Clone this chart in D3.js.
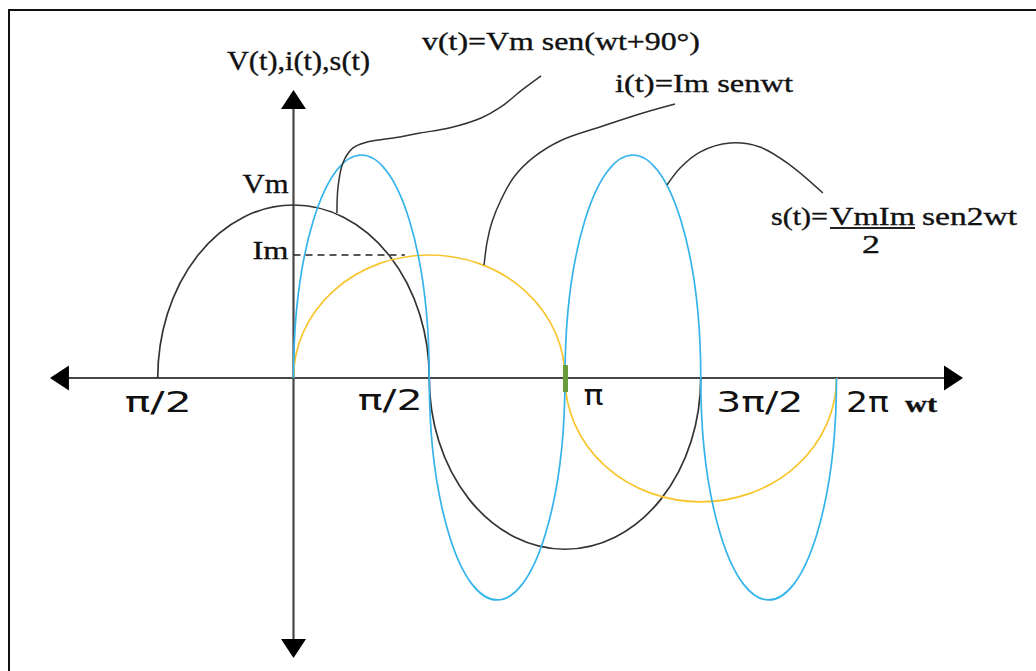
<!DOCTYPE html>
<html>
<head>
<meta charset="utf-8">
<script src="https://cdn.jsdelivr.net/npm/d3@7"></script>
<style>
  body { margin: 0; background: #fff; }
  svg { display: block; }
  .serif { font-family: "Liberation Serif", "DejaVu Serif", serif; fill: #111; stroke: #111; stroke-width: 0.35px; }
  .sans { font-family: "DejaVu Sans", "Noto Sans", sans-serif; fill: #111; }
</style>
</head>
<body>
<svg class="chart"></svg>
<script>
/******** Data (x in multiples of π, y in units of Vm) ********/
// each lobe: [start, end, peak]
var vLobes = [[-0.5, 0.5, 1.0], [0.5, 1.5, -0.99]];
var iLobes = [[0, 1, 0.711], [1, 2, -0.716]];
var sLobes = [[0, 0.5, 1.289], [0.5, 1, -1.283], [1, 1.5, 1.289], [1.5, 2, -1.283]];

var xTickValues = [-0.5, 0.5, 1, 1.5, 2];
var xTickLabels = ["π/2", "π/2", "π", "3π/2", "2π"];
var yLevelValues = [1.0, 0.711];
var yLevelLabels = ["Vm", "Im"];

var xAxisExtent = [-0.897, 2.466];
var yAxisExtent = [-1.618, 1.665];

// leader lines from the formulas to the curves
var vLeader = [[0.912, 1.746], [0.842, 1.665], [0.764, 1.567], [0.691, 1.503], [0.573, 1.445], [0.466, 1.416],
               [0.392, 1.393], [0.271, 1.364], [0.219, 1.330], [0.182, 1.243], [0.164, 1.104], [0.160, 0.954]];
var iLeader = [[1.405, 1.584], [1.287, 1.532], [1.140, 1.457], [0.989, 1.376], [0.886, 1.278], [0.812, 1.162],
               [0.764, 1.029], [0.731, 0.902], [0.713, 0.786], [0.702, 0.653]];
var sLeader = [[1.376, 1.116], [1.424, 1.214], [1.497, 1.306], [1.608, 1.358], [1.718, 1.335], [1.829, 1.231], [1.950, 1.069]];

/******** Layout ********/
var chartWidth = 1036, chartHeight = 671;
var blue = "#35b4ec", yellow = "#f9c52f", dark = "#333333", axisColor = "#474747";

// per-label placement of the wt ticks: anchor, dx, baseline offset, text length
var tickStyle = [
  { anchor: "middle", dx: 0, dy: 34, len: 67 },
  { anchor: "end", dx: -7, dy: 32, len: 65 },
  { anchor: "start", dx: 18, dy: 27, len: 20 },
  { anchor: "start", dx: 15, dy: 34, len: 87 },
  { anchor: "start", dx: 9, dy: 34, len: 43 }
];

/******** Scales ********/
var x = d3.scaleLinear().domain([0, 1]).range([293.5, 565]);
var y = d3.scaleLinear().domain([0, 1]).range([378, 205]);

var svg = d3.select(".chart")
  .attr("width", chartWidth)
  .attr("height", chartHeight);

// frame
svg.append("rect")
  .attr("x", 9).attr("y", 10)
  .attr("width", 1200).attr("height", 800)
  .attr("fill", "none")
  .attr("stroke", "#111")
  .attr("stroke-width", 2);

/******** Axes ********/
var axes = svg.append("g");

axes.append("line")
  .attr("x1", x(xAxisExtent[0]) + 10).attr("x2", x(xAxisExtent[1]) - 10)
  .attr("y1", y(0)).attr("y2", y(0))
  .attr("stroke", axisColor).attr("stroke-width", 2.2);

axes.append("line")
  .attr("x1", x(0)).attr("x2", x(0))
  .attr("y1", y(yAxisExtent[1]) + 10).attr("y2", y(yAxisExtent[0]) - 10)
  .attr("stroke", axisColor).attr("stroke-width", 2.2);

function arrowHead(tx, ty, dirX, dirY) {
  var len = 19, half = 12.5;
  var bx = tx - dirX * len, by = ty - dirY * len;
  var pts = [[tx, ty], [bx - dirY * half, by + dirX * half], [bx + dirY * half, by - dirX * half]];
  axes.append("path")
    .attr("d", "M" + pts.join("L") + "Z")
    .attr("fill", "#000");
}
arrowHead(x(xAxisExtent[1]), y(0), 1, 0);
arrowHead(x(xAxisExtent[0]), y(0), -1, 0);
arrowHead(x(0), y(yAxisExtent[1]), 0, -1);
arrowHead(x(0), y(yAxisExtent[0]), 0, 1);

// wt tick labels
var xAxis = d3.axisBottom(x)
  .tickValues(xTickValues)
  .tickFormat((d, i) => xTickLabels[i])
  .tickSize(0);

var xAxisGroup = svg.append("g")
  .attr("transform", "translate(0," + y(0) + ")")
  .call(xAxis);
xAxisGroup.select(".domain").remove();
xAxisGroup.selectAll("text")
  .attr("class", "sans")
  .attr("font-size", 29)
  .attr("fill", "#111")
  .attr("dy", null)
  .attr("y", (d, i) => tickStyle[i].dy)
  .attr("x", (d, i) => tickStyle[i].dx)
  .attr("text-anchor", (d, i) => tickStyle[i].anchor)
  .attr("textLength", (d, i) => tickStyle[i].len)
  .attr("lengthAdjust", "spacingAndGlyphs");

/******** Curves ********/
function lobePath(l) {
  var x0 = x(l[0]), x1 = x(l[1]), y0 = y(0);
  var rx = (x1 - x0) / 2, ry = Math.abs(y(l[2]) - y0);
  var sweep = l[2] > 0 ? 1 : 0;
  return "M" + x0 + "," + y0 + " A" + rx + "," + ry + " 0 0 " + sweep + " " + x1 + "," + y0;
}

function drawSeries(lobes, colour) {
  svg.append("g").selectAll("path")
    .data(lobes)
    .enter().append("path")
    .attr("d", lobePath)
    .attr("fill", "none")
    .attr("stroke", colour)
    .attr("stroke-width", 1.7);
}
drawSeries(vLobes, dark);
drawSeries(iLobes, yellow);
drawSeries(sLobes, blue);

// dashed Im level
svg.append("line")
  .attr("x1", x(0)).attr("x2", x(0.41))
  .attr("y1", y(yLevelValues[1])).attr("y2", y(yLevelValues[1]))
  .attr("stroke", "#222").attr("stroke-width", 1.6)
  .attr("stroke-dasharray", "7,5");

// green mark on the axis at π
svg.append("rect")
  .attr("x", x(1) - 2).attr("y", y(0) - 13)
  .attr("width", 5).attr("height", 27)
  .attr("fill", "#6a9b3c");

/******** Leaders ********/
var leaderLine = d3.line()
  .x(d => x(d[0]))
  .y(d => y(d[1]))
  .curve(d3.curveCatmullRom);

[vLeader, iLeader, sLeader].forEach(function (pts) {
  svg.append("path")
    .attr("d", leaderLine(pts))
    .attr("fill", "none")
    .attr("stroke", dark)
    .attr("stroke-width", 1.5);
});

/******** Text ********/
function addText(str, px, py, size, len, cls, anchor, weight) {
  return svg.append("text")
    .attr("class", cls)
    .attr("x", px).attr("y", py)
    .attr("font-size", size)
    .attr("font-weight", weight || "normal")
    .attr("text-anchor", anchor || "start")
    .attr("textLength", len)
    .attr("lengthAdjust", "spacingAndGlyphs")
    .text(str);
}

addText("V(t),i(t),s(t)", 227, 70, 27, 143, "serif");
addText(yLevelLabels[0], x(0) - 5, y(yLevelValues[0]) - 12, 28, 46, "serif", "end");
addText(yLevelLabels[1], x(0) - 5, y(yLevelValues[1]) + 4, 26, 36, "serif", "end");
addText("wt", 905, 412, 23, 32, "serif", "start", "bold");

addText("v(t)=Vm sen(wt+90°)", 422, 50, 25, 278, "serif");
addText("i(t)=Im senwt", 615, 92, 25, 178, "serif");

addText("s(t)=", 771, 225, 25, 57, "serif");
addText("VmIm", 830, 225, 25, 85, "serif");
addText("sen2wt", 922, 225, 25, 95, "serif");
addText("2", 871, 253, 25, 18, "serif", "middle");
svg.append("line")
  .attr("x1", 830).attr("x2", 915)
  .attr("y1", 228).attr("y2", 228)
  .attr("stroke", "#222").attr("stroke-width", 2.2);
</script>
</body>
</html>
